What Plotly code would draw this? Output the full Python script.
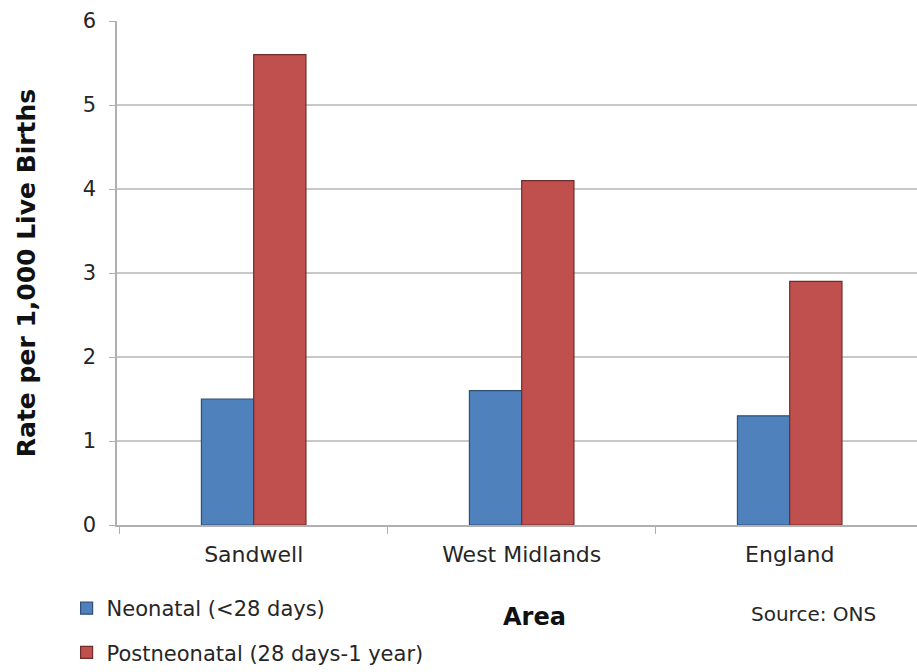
import plotly.graph_objects as go

# Infant mortality rates by area
areas = ["Sandwell", "West Midlands", "England"]
neonatal = [1.5, 1.6, 1.3]
postneonatal = [5.6, 4.1, 2.9]
series_names = ["Neonatal (<28 days)", "Postneonatal (28 days-1 year)"]
y_ticks = [0, 1, 2, 3, 4, 5, 6]

FONT = "DejaVu Sans, Arial, sans-serif"
TEXT = "#262626"

fig = go.Figure()
fig.add_trace(go.Bar(
    x=areas, y=neonatal, name=series_names[0], legendgroup="a",
    marker=dict(color="#4f81bd", line=dict(color="#2f4f78", width=1.2)),
))
fig.add_trace(go.Bar(
    x=areas, y=postneonatal, name=series_names[1], legendgroup="b",
    marker=dict(color="#c0504d", line=dict(color="#6e2d2b", width=1.2)),
))

fig.update_layout(
    width=917, height=672,
    margin=dict(l=117, r=0, t=21, b=147, autoexpand=False),
    paper_bgcolor="white", plot_bgcolor="white",
    barmode="group", bargap=0.61, bargroupgap=0,
    font=dict(family=FONT, size=20, color=TEXT),
    showlegend=True,
    legend=dict(
        x=-0.063, y=0.125, xanchor="left", yanchor="top",
        yref="container",
        orientation="v", traceorder="grouped", tracegroupgap=14,
        font=dict(family=FONT, size=21, color=TEXT),
        itemwidth=30, bgcolor="rgba(0,0,0,0)",
    ),
    annotations=[
        dict(text="<b>Area</b>", xref="paper", yref="paper", x=0.522, y=-0.1825,
             xanchor="center", yanchor="middle", showarrow=False,
             font=dict(family=FONT, size=24, color="#111111")),
        dict(text="Source: ONS", xref="paper", yref="paper", x=0.87, y=-0.1766,
             xanchor="center", yanchor="middle", showarrow=False,
             font=dict(family=FONT, size=20, color=TEXT)),
    ],
)

fig.update_xaxes(
    range=[-0.51, 2.475],
    showline=True, linecolor="#b0b0b0", linewidth=1.5,
    ticks="outside", tickson="boundaries", ticklen=7, tickcolor="#b0b0b0",
    ticklabelstandoff=9,
    tickfont=dict(family=FONT, size=22, color=TEXT),
    showgrid=False,
)
fig.update_yaxes(
    range=[0, 6], tickvals=y_ticks,
    showline=True, linecolor="#b0b0b0", linewidth=1.5,
    ticks="outside", ticklen=6, tickcolor="#b0b0b0",
    ticklabelstandoff=9,
    tickfont=dict(family=FONT, size=21, color=TEXT),
    showgrid=True, gridcolor="#c8c8c8", gridwidth=1.5,
    zeroline=False,
    title=dict(text="<b>Rate per 1,000 Live Births</b>", standoff=40,
               font=dict(family=FONT, size=25, color="#111111")),
)

fig.write_html("out.html")
